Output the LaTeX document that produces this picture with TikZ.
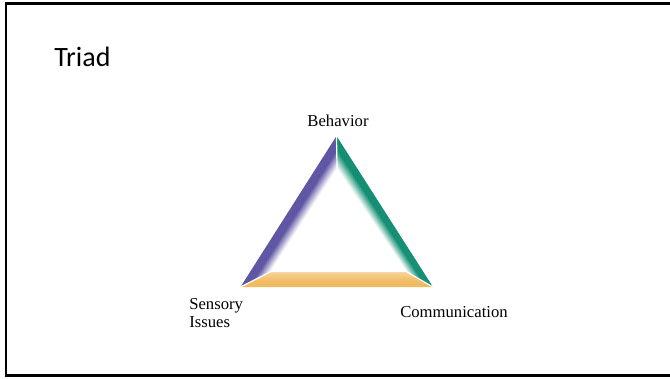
\documentclass[tikz,border=0pt]{standalone}
\usepackage{fontspec}
\setmainfont{Liberation Serif}
\newfontfamily\titlefont{Carlito}
\usepackage{xcolor}
\usepackage{tikz}
\usetikzlibrary{calc}

\definecolor{bandpurple}{RGB}{92,82,162}
\definecolor{bandteal}{RGB}{14,140,112}
\definecolor{bandorange}{RGB}{240,178,78}

\tikzset{
  corner text/.style={font=\fontsize{12.5}{13.5}\selectfont, inner sep=0pt},
  seam/.style={white, line width=0.9pt}
}

% one side of the bevelled triangle: outer edge (#1,#2), inner edge (#3,#4),
% colour #5, shade (percent of colour) #6 as a function of \t
\newcommand{\bevelband}[6]{%
  \foreach \i in {0,...,29}{%
    \pgfmathsetmacro\t{\i/30}%
    \pgfmathsetmacro\s{min(1,(\i+1.5)/30)}%
    \pgfmathtruncatemacro\pc{#6}%
    \fill[#5!\pc!white] ($(#1)!\t!(#3)$) -- ($(#2)!\t!(#4)$) -- ($(#2)!\s!(#4)$) -- ($(#1)!\s!(#3)$) -- cycle;
  }}

\begin{document}
\begin{tikzpicture}[x=0.75pt,y=0.75pt,yscale=-1,xscale=1]
\useasboundingbox (0,0) rectangle (670,378);
\clip (0,0) rectangle (670,378);

%Slide frame
\draw[line width=2.2pt] (6,3.5) rectangle (690,375.5);

% Title
\node[anchor=base west, inner sep=0pt, font=\titlefont\fontsize{21}{24}\selectfont] (title) at (54,66.5) {Triad};

% outer and inner corners of the triangle
\coordinate (A) at (336.5,136);
\coordinate (B) at (240.5,287);
\coordinate (C) at (433,287);
\coordinate (a) at (337,168);
\coordinate (b) at (270,272);
\coordinate (c) at (407,272);

% Sides
\bevelband{B}{A}{b}{a}{bandpurple}{min(100,100*(1-\t)/0.55)}
\bevelband{A}{C}{a}{c}{bandteal}{min(100,100*(1-\t)/0.6)}
\bevelband{B}{C}{b}{c}{bandorange}{100-45*\t*\t}

% Seams at the corners
\draw[seam] (A) -- (a);
\draw[seam] (B) -- (b);
\draw[seam] (C) -- (c);

% Text Node
\node[corner text, anchor=base] (behavior) at (338,126) {Behavior};
% Text Node
\node[corner text, anchor=base west, align=left] (sensory) at (189,327.5) {Sensory\\Issues};
% Text Node
\node[corner text, anchor=base west] (communication) at (400,317.5) {Communication};

\end{tikzpicture}
\end{document}
